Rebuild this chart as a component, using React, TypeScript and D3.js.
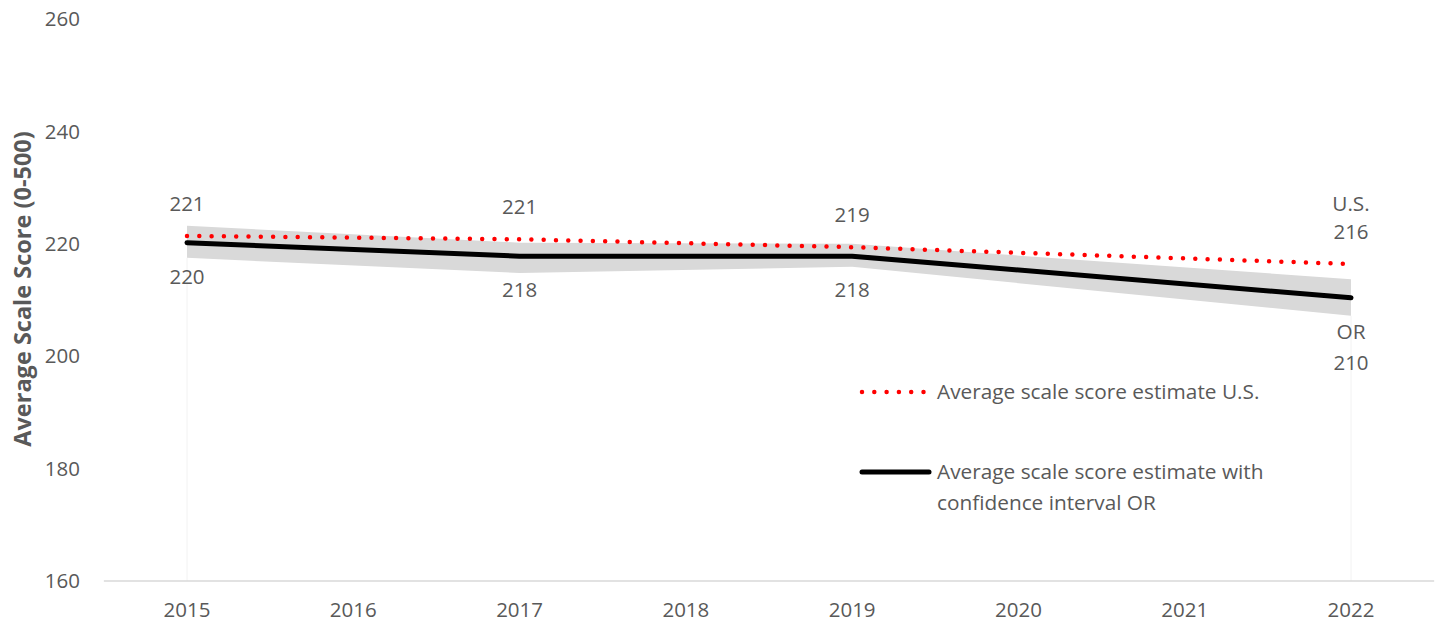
import React from 'react';
import * as d3 from 'd3';

// chart values
const years = [2015, 2016, 2017, 2018, 2019, 2020, 2021, 2022];
const dataYears = [2015, 2017, 2019, 2022];
const usScores = [221.4, 220.8, 219.4, 216.4];
const orScores = [220.2, 217.8, 217.8, 210.4];
const orLower = [217.5, 214.8, 215.9, 207.2];
const orUpper = [223.2, 220.2, 220.0, 213.7];
const yTicks = [160, 180, 200, 220, 240, 260];
const usName = 'U.S.';
const orName = 'OR';
const legendUS = ['Average scale score estimate U.S.'];
const legendOR = ['Average scale score estimate with', 'confidence interval OR'];

const W = 1439, H = 623;
const FONT = '"Open Sans", sans-serif';
const TXT = '#595959';
const NUM = 20.5;
const WORD = 20.8;

const App = () => {
  const x = d3.scaleLinear().domain([2015, 2022]).range([187, 1351]);
  const y = d3.scaleLinear().domain([160, 260]).range([581, 19]);
  const step = x(2016) - x(2015);

  // confidence band
  const band = d3.area<number>()
    .x((_, i) => x(dataYears[i]))
    .y0((_, i) => y(orLower[i]))
    .y1((_, i) => y(orUpper[i]));

  const line = d3.line<number>()
    .x((_, i) => x(dataYears[i]))
    .y(d => y(d));

  const last = dataYears.length - 1;

  return (
    <svg width={W} height={H} style={{ position: 'absolute', left: 0, top: 0, background: '#fff' }}
      fontFamily={FONT}>
      {/* faint drop lines at the ends */}
      <line x1={x(2015)} x2={x(2015)} y1={y(orLower[0])} y2={y(160)} stroke="#f2f2f2" strokeWidth={1} />
      <line x1={x(2022)} x2={x(2022)} y1={y(orLower[last])} y2={y(160)} stroke="#f2f2f2" strokeWidth={1} />

      {/* y axis tick labels */}
      {yTicks.map(t => (
        <text key={t} x={80} y={y(t)} dy="0.35em" textAnchor="end" fontSize={NUM} fill={TXT}>{t}</text>
      ))}
      <text transform={`translate(23,${289}) rotate(-90)`} dy="0.35em" textAnchor="middle" fontSize={23.5}
        fontWeight="bold" fill={TXT}>Average Scale Score (0-500)</text>

      {/* x axis */}
      <line x1={x(2015) - step / 2} x2={x(2022) + step / 2} y1={y(160)} y2={y(160)} stroke="#d9d9d9" strokeWidth={1.5} />
      {years.map(yr => (
        <text key={yr} x={x(yr)} y={610} dy="0.35em" textAnchor="middle" fontSize={NUM} fill={TXT}>{yr}</text>
      ))}

      <path d={band(orScores) || ''} fill="#d9d9d9" />
      <path d={line(orScores) || ''} fill="none" stroke="#000" strokeWidth={5} strokeLinecap="round" strokeLinejoin="round" />
      <path d={line(usScores) || ''} fill="none" stroke="#ff0000" strokeWidth={4.5} strokeLinecap="round"
        strokeDasharray="0 12.3" />

      {/* data labels */}
      {dataYears.map((yr, i) => (
        <g key={yr} fontSize={NUM} fill={TXT} textAnchor="middle">
          {i === last && (
            <text x={x(yr)} y={y(usScores[i]) - 60} dy="0.35em" fontSize={WORD}>{usName}</text>
          )}
          <text x={x(yr)} y={y(usScores[i]) - 32} dy="0.35em">{Math.round(usScores[i])}</text>
          <text x={x(yr)} y={y(orScores[i]) + 34} dy="0.35em" fontSize={i === last ? WORD : NUM}>
            {i === last ? orName : Math.round(orScores[i])}
          </text>
          {i === last && (
            <text x={x(yr)} y={y(orScores[i]) + 65} dy="0.35em">{Math.round(orScores[i])}</text>
          )}
        </g>
      ))}

      {/* legend */}
      <line x1={862} x2={925} y1={392} y2={392} stroke="#ff0000" strokeWidth={4.5} strokeLinecap="round" strokeDasharray="0 12.3" />
      {legendUS.map((s, i) => (
        <text key={s} x={937} y={392 + i * 31} dy="0.35em" fontSize={WORD} fill={TXT}>{s}</text>
      ))}
      <line x1={862} x2={929} y1={472} y2={472} stroke="#000" strokeWidth={5} strokeLinecap="round" />
      {legendOR.map((s, i) => (
        <text key={s} x={937} y={472 + i * 31} dy="0.35em" fontSize={WORD} fill={TXT}>{s}</text>
      ))}
    </svg>
  );
};

export default App;
